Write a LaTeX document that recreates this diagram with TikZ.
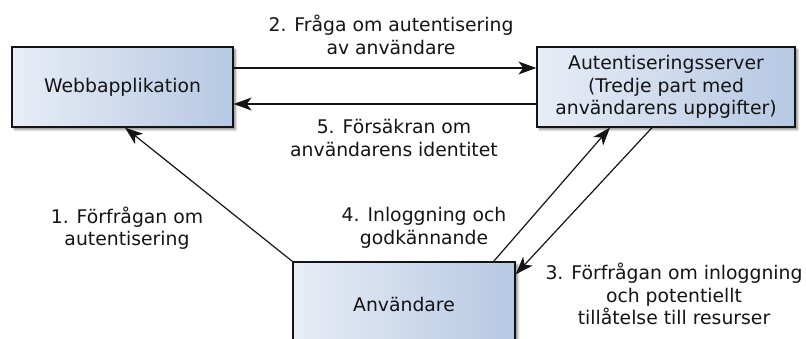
\documentclass[tikz,border=0pt]{standalone}
\usepackage{fontspec}
\setmainfont{DejaVu Sans}
\usetikzlibrary{arrows.meta,shadows.blur}
\definecolor{boxleft}{RGB}{232,237,246}
\definecolor{boxright}{RGB}{182,200,227}
\definecolor{ink}{RGB}{20,20,20}
\tikzset{
  party/.style={draw=ink, line width=1.3pt, left color=boxleft, right color=boxright,
    align=center, inner sep=0pt, text=ink,
    blur shadow={shadow xshift=2.5pt, shadow yshift=-2.5pt, shadow blur steps=6, shadow opacity=45}},
  flow/.style={draw=ink, line width=1.2pt, -{Stealth[length=18pt, width=13pt, inset=5pt]}},
  note/.style={align=center, text=ink, inner sep=0pt}
}
\begin{document}
\begin{tikzpicture}[x=1pt, y=-1pt, font=\fontsize{18.8}{22.5}\selectfont]
\useasboundingbox (0,0) rectangle (806,338);

% the three parties
\node[party, minimum width=221pt, minimum height=80pt] (webb) at (122.5,87) {Webbapplikation};
\node[party, minimum width=258pt, minimum height=80pt] (auth) at (666,87)
  {Autentiseringsserver\\(Tredje part med\\användarens uppgifter)};
\node[party, minimum width=222pt, minimum height=84pt] (user) at (404,304) {Användare};

% message flows
\draw[flow] ([yshift=19pt]webb.east) -- ([yshift=19pt]auth.west);
\draw[flow] ([yshift=-17pt]auth.west) -- ([yshift=-17pt]webb.east);
\draw[flow] (user.north west) -- ([xshift=2.5pt]webb.south);
\draw[flow] ([xshift=-22pt]user.north east) -- ([xshift=-56pt]auth.south);
\draw[flow] ([xshift=-14pt]auth.south) -- ([yshift=-13pt]user.north east);

% step labels
\node[note] (n2) at (391,35) {2. Fråga om autentisering\\av användare};
\node[note] (n5) at (394,138) {5. Försäkran om\\användarens identitet};
\node[note] (n1) at (127,228) {1. Förfrågan om\\autentisering};
\node[note] (n4) at (424,228) {4. Inloggning och\\godkännande};
\node[note] (n3) at (674,294) {3. Förfrågan om inloggning\\och potentiellt\\tillåtelse till resurser};
\end{tikzpicture}
\end{document}
